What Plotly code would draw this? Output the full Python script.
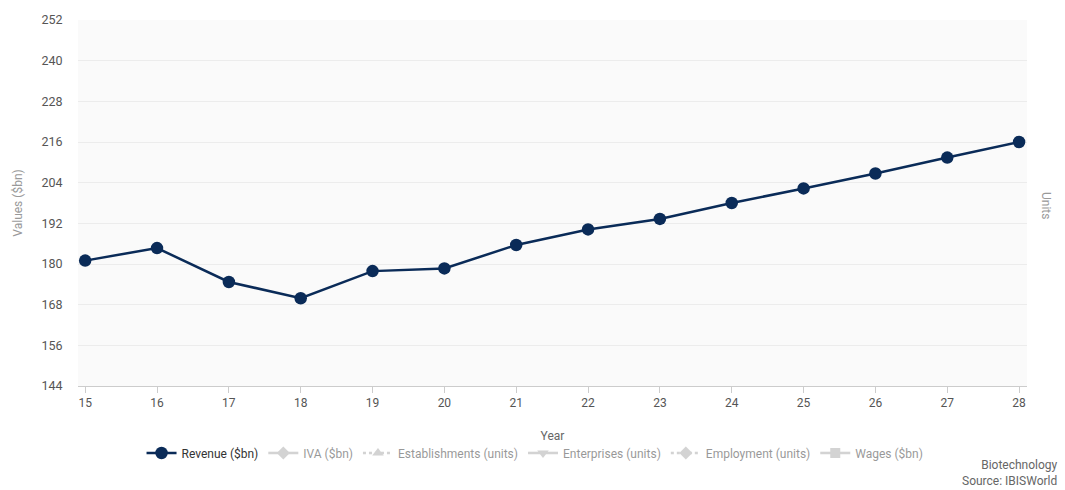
import plotly.graph_objects as go

# Biotechnology industry revenue by year
years = [15, 16, 17, 18, 19, 20, 21, 22, 23, 24, 25, 26, 27, 28]
revenue = [181.0, 184.7, 174.7, 169.9, 177.9, 178.7, 185.6, 190.2, 193.3, 198.0, 202.3, 206.7, 211.4, 216.0]
y_ticks = [144, 156, 168, 180, 192, 204, 216, 228, 240, 252]

# Other series available in the legend but switched off
hidden_series = ["IVA ($bn)", "Establishments (units)", "Enterprises (units)", "Employment (units)", "Wages ($bn)"]
hidden_symbols = ["diamond", "triangle-up", "triangle-down", "diamond", "square"]
hidden_dash = ["solid", "dot", "solid", "dot", "solid"]

NAVY = "#0a2b58"
FONT = "Roboto, Arial, sans-serif"

fig = go.Figure()
fig.add_trace(go.Scatter(
    x=years, y=revenue, name="Revenue ($bn)", mode="lines+markers",
    line=dict(color=NAVY, width=2.5),
    marker=dict(color=NAVY, size=12.5, symbol="circle"),
))
for name, sym, dash in zip(hidden_series, hidden_symbols, hidden_dash):
    fig.add_trace(go.Scatter(
        x=years, y=revenue, name=name, mode="lines+markers", visible="legendonly",
        line=dict(color="#a8a8a8", width=2.5, dash=dash),
        marker=dict(color="#a8a8a8", size=10, symbol=sym),
    ))

fig.update_layout(
    width=1065, height=490,
    margin=dict(l=78, r=38, t=20, b=104),
    paper_bgcolor="white", plot_bgcolor="#fafafa",
    font=dict(family=FONT, size=12, color="#666666"),
    showlegend=True,
    legend=dict(orientation="h", x=0.4816, xanchor="center", y=-0.183, yanchor="middle",
                font=dict(size=12, color="#333333"), itemwidth=30, bgcolor="rgba(0,0,0,0)"),
    xaxis=dict(range=[14.9, 28.11], tickmode="array", tickvals=years, ticktext=[str(v) for v in years],
               showgrid=False, zeroline=False, showline=True, linecolor="#cccccc", linewidth=1,
               ticks="outside", ticklen=6, tickcolor="#cccccc",
               tickfont=dict(size=12, color="#555555"),
               title=dict(text="Year", font=dict(size=12, color="#666666"), standoff=22)),
    yaxis=dict(range=[144, 252], tickmode="array", tickvals=y_ticks, ticktext=[str(v) for v in y_ticks],
               showgrid=True, gridcolor="#ececec", gridwidth=1, zeroline=False, showline=False,
               ticks="outside", ticklen=12, tickcolor="rgba(0,0,0,0)",
               tickfont=dict(size=12.5, color="#555555"),
               title=dict(text="Values ($bn)", font=dict(size=12, color="#999999"), standoff=16)),
)

fig.add_annotation(text="Units", xref="paper", yref="paper", x=1.0, xshift=28, y=0.5, yshift=-2,
                   textangle=90, showarrow=False, font=dict(size=12, color="#999999"))
fig.add_annotation(text="Biotechnology<br>Source: IBISWorld", xref="paper", yref="paper",
                   x=1.0, xanchor="right", xshift=33, y=-0.19, yanchor="top", align="right",
                   showarrow=False, font=dict(size=12, color="#666666"))

fig.write_html("out.html")
